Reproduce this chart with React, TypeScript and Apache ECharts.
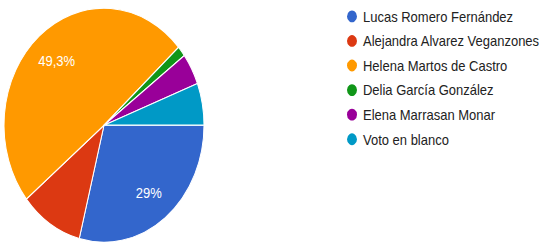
import React, { useEffect, useRef } from "react";
import * as echarts from "echarts";

const names = [
  "Lucas Romero Fernández",
  "Alejandra Alvarez Veganzones",
  "Helena Martos de Castro",
  "Delia García González",
  "Elena Marrasan Monar",
  "Voto en blanco",
];
const votes = [20, 7, 34, 1, 3, 4];
const colors = ["#3366cc", "#dc3912", "#ff9900", "#109618", "#990099", "#0099c6"];
const labelled = [true, false, true, false, false, false];

const STRETCH = 1.17;
const W = 545;
const H = Math.round(242 / STRETCH);
const FONT = "'Liberation Sans', Arial, sans-serif";

export default function App() {
  const ref = useRef<HTMLDivElement>(null);
  useEffect(() => {
    if (!ref.current) return;
    const chart = echarts.init(ref.current, undefined, { renderer: "svg" });
    const total = votes.reduce((a, b) => a + b, 0);
    const fmt = (v: number) => {
      const p = Math.round((v / total) * 1000) / 10;
      return String(p).replace(".", ",") + "%";
    };
    const data = names.map((n, i) => ({
      name: n,
      value: votes[i],
      itemStyle: { color: colors[i] },
    }));
    const labelData = names.map((n, i) => ({
      name: n,
      value: votes[i],
      itemStyle: { color: "rgba(0,0,0,0)" },
      label: { show: labelled[i] },
    }));
    chart.setOption({
      animation: false,
      legend: {
        orient: "vertical",
        left: 340,
        top: 2,
        icon: "circle",
        itemWidth: 12,
        itemHeight: 12,
        itemGap: 7,
        textStyle: { fontFamily: FONT, fontSize: 13, lineHeight: 14, color: "#222" },
        data: names,
      },
      series: [
        {
          type: "pie",
          center: [104, 107],
          radius: [0, 100],
          startAngle: 0,
          clockwise: true,
          label: { show: false },
          labelLine: { show: false },
          itemStyle: { borderColor: "#fff", borderWidth: 1 },
          emphasis: { disabled: true },
          data,
        },
        {
          type: "pie",
          center: [104, 107],
          radius: [40, 100],
          startAngle: 0,
          clockwise: true,
          silent: true,
          legendHoverLink: false,
          label: {
            show: true,
            position: "inside",
            color: "#fff",
            fontFamily: FONT,
            fontSize: 13,
            formatter: (p: any) => fmt(p.value),
          },
          labelLine: { show: false },
          emphasis: { disabled: true },
          data: labelData,
        },
      ],
    });
    return () => chart.dispose();
  }, []);
  return (
    <div
      style={{
        position: "absolute",
        left: 0,
        top: 0,
        width: W,
        height: H,
        transform: `scaleY(${STRETCH})`,
        transformOrigin: "top left",
        background: "#fff",
      }}
    >
      <div ref={ref} style={{ width: W, height: H }} />
    </div>
  );
}
